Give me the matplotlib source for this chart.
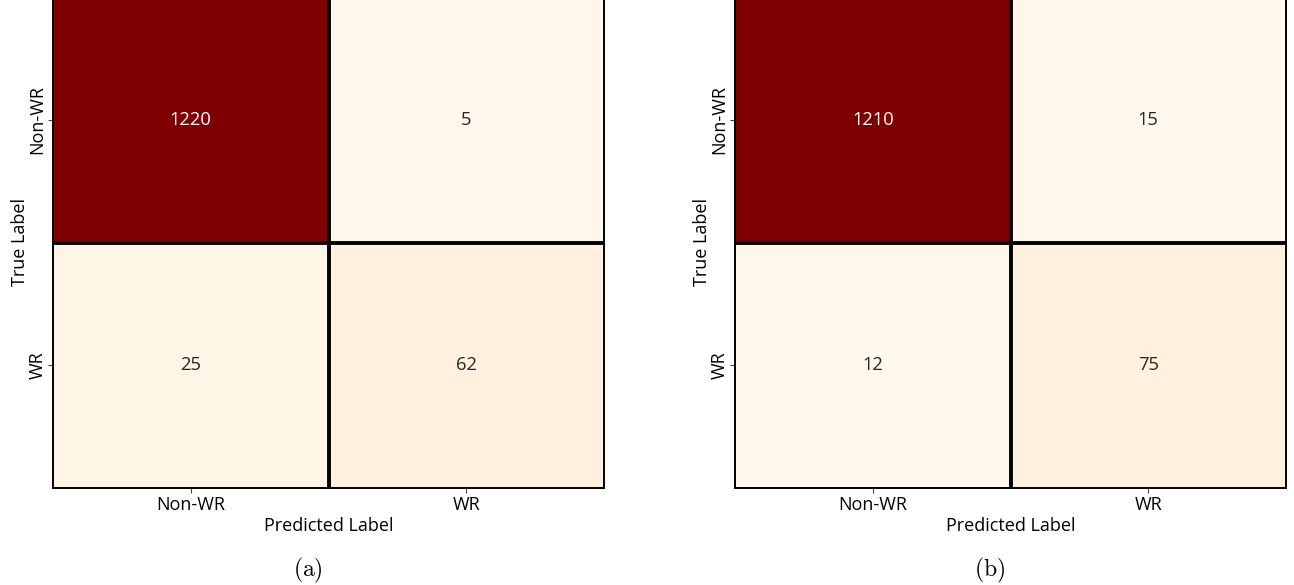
import numpy as np
import matplotlib
matplotlib.use("Agg")
import matplotlib.pyplot as plt
import seaborn as sns

plt.rcParams['font.family'] = ['Open Sans', 'DejaVu Sans']
plt.rcParams['mathtext.fontset'] = 'cm'

labels = ['Non-WR', 'WR']
cm_a = np.array([[1220, 5],
                 [25, 62]])
cm_b = np.array([[1210, 15],
                 [12, 75]])
captions = ['(a)', '(b)']

fig = plt.figure(figsize=(12.94, 5.85), dpi=100)
W, H = 1294.0, 585.0
# axes boxes in pixels: left, bottom, width, height
boxes = [(53, 97, 551, 491), (735, 97, 551, 491)]

for cm, cap, (x0, y0, w, h) in zip([cm_a, cm_b], captions, boxes):
    ax = fig.add_axes([x0 / W, y0 / H, w / W, h / H])
    sns.heatmap(cm, annot=True, fmt='d', cmap='OrRd', cbar=False,
                xticklabels=labels, yticklabels=labels,
                annot_kws={'fontsize': 13.2}, ax=ax)
    # thick separators between cells, thin outer frame
    n = cm.shape[0]
    for k in range(1, n):
        ax.axhline(k, color='black', lw=2.8)
        ax.axvline(k, color='black', lw=2.8)
    for s in ax.spines.values():
        s.set_visible(True)
        s.set_linewidth(1.4)
        s.set_color('black')
    ax.tick_params(labelsize=13, length=3.5, width=0.8, color='#444444', pad=2.5)
    ax.tick_params(axis='y', pad=1)
    ax.set_xlabel('Predicted Label', fontsize=13, labelpad=2)
    ax.set_ylabel('True Label', fontsize=13, labelpad=0)
    # caption centred on the whole subfigure, labels included
    ax.text(0.5 - 21 / w, -0.168, r'$\mathrm{' + cap + '}$', transform=ax.transAxes,
            ha='center', va='center', fontsize=17)

fig.savefig('out.png', dpi=100)
